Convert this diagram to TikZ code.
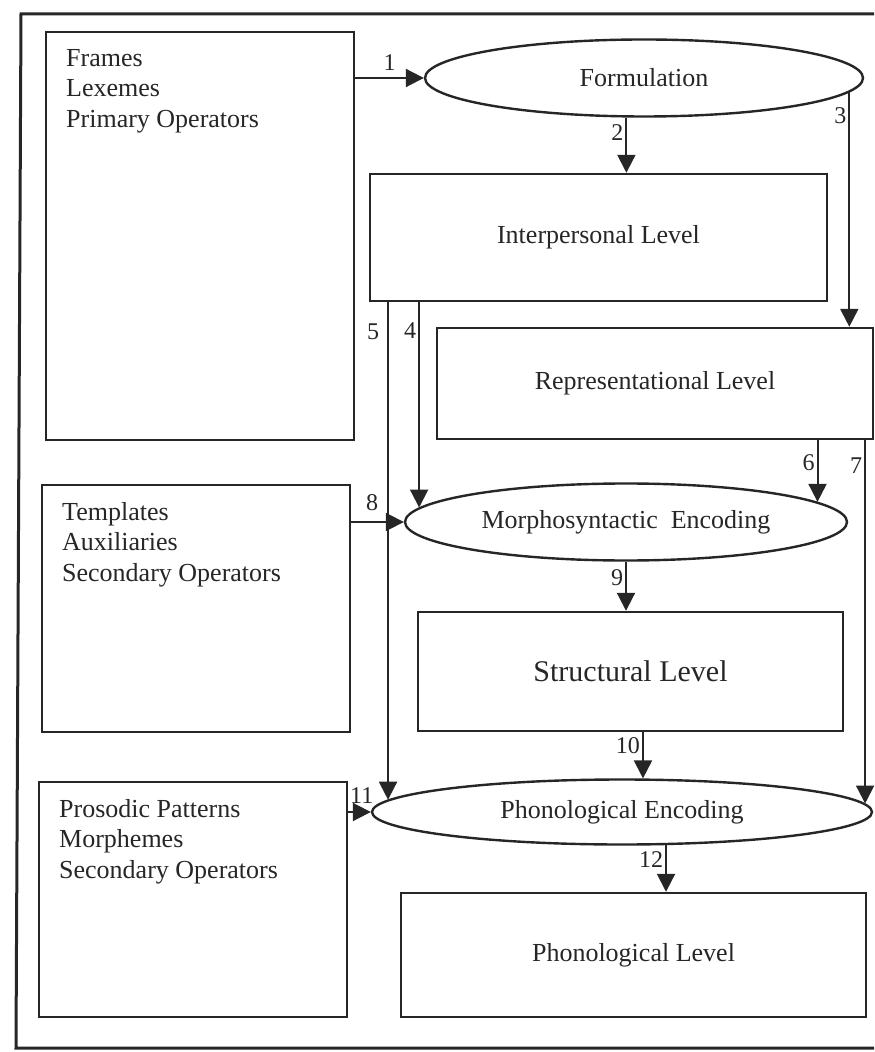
\documentclass[tikz,border=0pt]{standalone}
\usepackage{fontspec}
\setmainfont{Liberation Serif}
\usetikzlibrary{shapes.geometric,arrows.meta,positioning}

\tikzset{
  lvl/.style={draw, line width=1.2pt, inner sep=0pt, font=\fontsize{13}{15}\selectfont},
  enc/.style={ellipse, draw, line width=1.2pt, inner sep=0pt, font=\fontsize{13}{15}\selectfont},
  store/.style={draw, line width=1.2pt, inner sep=0pt, minimum width=154pt},
  lst/.style={inner sep=0pt, align=left, font=\fontsize{13}{15.3}\selectfont},
  num/.style={inner sep=1pt, font=\fontsize{12}{12}\selectfont},
  arr/.style={line width=1pt, -{Triangle[length=9pt,width=9pt]}},
}

\begin{document}
\begin{tikzpicture}[x=0.5pt, y=-0.5pt, color=black!85]
    \useasboundingbox (0,0) rectangle (874,1052);
    \draw[line width=1.5pt] (874,14) -- (21,14) -- (16,1048) -- (874,1048);

    % left column
    \node[store, minimum height=204pt] (A) at (200,236) {};
    \node[lst, below right=9pt and 10.5pt of A.north west] (Atxt) {Frames\\Lexemes\\Primary Operators};
    \node[store, minimum height=123.5pt] (B) at (196,608.5) {};
    \node[lst, below right=9pt and 10.5pt of B.north west] (Btxt) {Templates\\Auxiliaries\\Secondary Operators};
    \node[store, minimum height=117.5pt] (C) at (193,899.5) {};
    \node[lst, below right=9pt and 10.5pt of C.north west] (Ctxt) {Prosodic Patterns\\Morphemes\\Secondary Operators};

    % levels and encodings
    \node[enc, minimum width=219pt, minimum height=38.5pt] (F) at (644,78) {Formulation};
    \node[lvl, minimum width=228.5pt, minimum height=63.5pt] (I) at (598.5,237.5) {Interpersonal Level};
    \node[lvl, minimum width=218pt, minimum height=55.5pt] (R) at (655,383.5) {Representational Level};
    \node[enc, minimum width=221pt, minimum height=38.5pt] (M) at (626,522) {Morphosyntactic\ \ Encoding};
    \node[lvl, minimum width=212.5pt, minimum height=59.5pt, font=\fontsize{15}{18}\selectfont] (S) at (630.5,671.5) {Structural Level};
    \node[enc, minimum width=250pt, minimum height=32.5pt] (P) at (622,812) {Phonological Encoding};
    \node[lvl, minimum width=232.5pt, minimum height=62pt] (L) at (633.5,955) {Phonological Level};

    % numbered arrows
    \draw[arr] (A.east |- F.west) -- node[num, above, pos=0.5, yshift=2pt]{1} (F.west);
    \draw[arr] (F.246) -- node[num, left, pos=0.28]{2} (F.246 |- I.north);
    \draw[arr] (F.-4) -- node[num, left, pos=0.1]{3} (F.-4 |- R.north);
    \draw[arr] (M.176 |- I.south) -- node[num, left, pos=0.14]{4} (M.176);
    \draw[arr] (P.177 |- I.south) -- node[num, left, pos=0.06, xshift=-3pt]{5} (P.177);
    \draw[arr] (M.6 |- R.south) -- node[num, left, pos=0.37]{6} (M.6);
    \draw[arr] (P.2.5 |- R.south) -- node[num, left, pos=0.07]{7} (P.2.5);
    \draw[arr] (B.east |- M.west) -- node[num, above, pos=0.4, yshift=4pt]{8} (M.west);
    \draw[arr] (M.south) -- node[num, left, pos=0.33]{9} (M.south |- S.north);
    \draw[arr] (P.58 |- S.south) -- node[num, left, pos=0.29]{10} (P.58);
    \draw[arr] (C.east |- P.west) -- node[num, above, pos=0.6, yshift=3pt]{11} (P.west);
    \draw[arr] (P.323) -- node[num, left, pos=0.31]{12} (P.323 |- L.north);
\end{tikzpicture}
\end{document}
